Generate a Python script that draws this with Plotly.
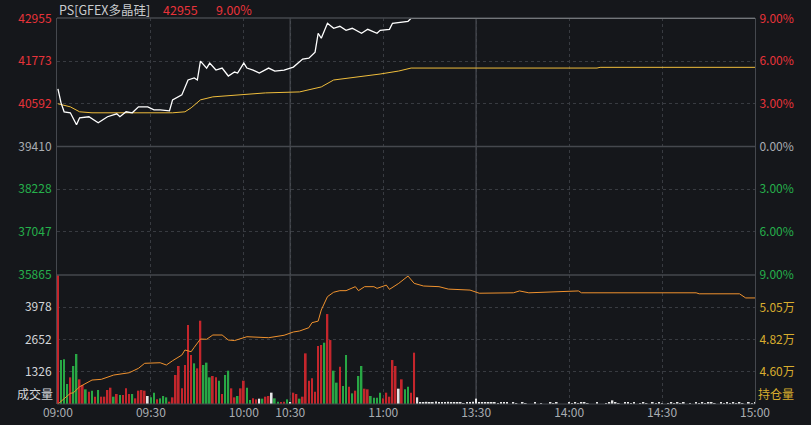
import plotly.graph_objects as go

# PS 多晶硅 intraday, one bar per trading minute
symbol = "PS[GFEX多晶硅]"
prev_settle = 39410

time_labels = ["09:00", "09:30", "10:00", "10:30", "11:00", "13:30", "14:00", "14:30", "15:00"]
time_ticks = [0, 30, 60, 75, 105, 135, 165, 195, 225]
session_breaks = [75, 135]

price_ticks = [35865, 37047, 38228, 39410, 40592, 41773, 42955]

# last price (white), minute -> price
price_min = [0, 1, 2, 4, 6, 7, 10, 13, 16, 19, 20, 22, 24, 26, 29, 31, 33, 36, 37, 40,
             42, 44, 45, 46, 48, 49, 51, 53, 55, 57, 58, 60, 61, 63, 65, 68, 70, 73, 75, 76,
             79, 81, 83, 84, 85, 87, 89, 91, 93, 95, 98, 100, 103, 104, 107, 108, 113, 114, 225]
price_val = [41003, 40617, 40370, 40342, 40012, 40205, 40233, 40068, 40233, 40315, 40233, 40370,
             40342, 40507, 40507, 40425, 40425, 40397, 40700, 40838, 41250, 41305, 41250, 41773,
             41580, 41718, 41525, 41580, 41360, 41470, 41443, 41718, 41580, 41525, 41443, 41580,
             41497, 41525, 41580, 41608, 41828, 41855, 42020, 42543, 42405, 42818, 42680, 42735,
             42625, 42680, 42543, 42653, 42543, 42625, 42653, 42818, 42873, 42955, 42955]

# average price (yellow)
avg_min = [0, 4, 7, 11, 37, 41, 43, 46, 50, 59, 67, 78, 85, 89, 97, 104, 110, 114, 174, 175, 225]
avg_val = [40592, 40507, 40370, 40342, 40342, 40370, 40480, 40700, 40783, 40838, 40893, 40920,
           41058, 41250, 41333, 41415, 41498, 41580, 41580, 41600, 41600]

# open interest 持仓量 (orange)
oi_min = [0, 2, 4, 5, 7, 11, 14, 18, 23, 26, 28, 33, 35, 37, 40, 41, 43, 44, 46, 48, 50, 53,
          55, 57, 61, 68, 73, 76, 78, 81, 82, 84, 85, 87, 89, 91, 93, 96, 97, 99, 102, 103, 106,
          107, 110, 113, 115, 118, 123, 126, 133, 136, 147, 149, 152, 168, 169, 206, 207, 220, 222, 225]
oi_val = [43745, 44140, 44490, 44530, 44950, 45420, 45470, 45770, 45930, 46240, 46590, 46630,
          46470, 46770, 47170, 47520, 47400, 47710, 48290, 48270, 48570, 48570, 48220, 48180,
          48450, 48380, 48550, 48780, 48850, 49080, 49430, 49540, 50320, 51250, 51560, 51670,
          51670, 51950, 51670, 51950, 51950, 51830, 52060, 51760, 52180, 52690, 52180, 51995,
          51950, 51780, 51710, 51490, 51520, 51650, 51520, 51650, 51520, 51520, 51450, 51450,
          51160, 51160]
oi_ticks = [46000, 48250, 50500]
oi_labels = ["4.60万", "4.82万", "5.05万"]

vol_ticks = [1326, 2652, 3978]

volume = [5600, 1808, 1836, 822, 1096, 1562, 2055, 1014, 781, 603,
          507, 548, 301, 575, 301, 301, 575, 671, 301, 411,
          370, 370, 644, 411, 411, 233, 548, 575, 548, 329,
          274, 466, 192, 233, 329, 274, 96, 274, 1192, 1562,
          644, 1603, 3247, 2014, 1672, 1466, 3425, 1603, 1700, 1096,
          1151, 1096, 959, 411, 1192, 1370, 644, 274,
          329, 644, 959, 671, 164, 233, 192, 219, 219, 301,
          329, 466, 233, 96, 55, 96, 192, 55, 466, 411,
          219, 301, 2082, 959, 1055, 507, 2384, 2425, 2521, 3699,
          2630, 1370, 877, 1535, 740, 2014, 712, 438, 548, 1151,
          1562, 630, 603, 329, 260, 260, 466, 233, 466, 301,
          1808, 1562, 630, 1014, 603, 712, 466, 2110, 274,
          80, 60, 90, 60, 80, 100, 60, 80, 60, 90, 70, 60, 80, 60, 40, 80, 60, 90,
          220,
          60, 80, 60, 60, 80, 60, 40, 60, 80, 60,
          0, 60, 40, 0, 60, 40, 0, 0, 60, 0,
          40, 0, 0, 60, 40, 60, 0, 0, 0, 60,
          40, 60, 40, 60, 60, 40, 0, 0, 60, 0,
          0, 40, 80, 150, 60, 40, 0, 60, 60, 40,
          60, 0, 40, 60, 40, 0, 60, 40, 60, 40,
          0, 40, 60, 40, 60, 40, 60, 0, 40, 0,
          60, 40, 60, 40, 60, 60, 40, 0, 60, 40,
          60, 40, 60, 40, 60, 40, 0, 60, 40, 80]
# r = up, g = down, w = flat
vol_dir = ("rgggrggrrg" "rgrgrrrrgr" "grrrgrrrrw" "ggrgggrrrr" "rrrrgrrggg" "rrgrggrr"
           "grrggrrwgr" "rwggrrgwrr" "grrrrrrrgr" "rggrggrgrg" "grrggggrrr" "rrwrggrrw")
vol_dir = vol_dir + "w" * (len(volume) - len(vol_dir))

BG = "#15171b"
GRID = "#383b41"
FRAME = "#45484e"
RED = "#e8333a"
GREEN = "#25b04b"
GRAY = "#a9adb2"
GOLD = "#d8ad2e"
bar_colors = {"r": "#c4262c", "g": "#28a745", "w": "#e6e6e6"}


def side_color(p):
    if p > prev_settle:
        return RED
    if p < prev_settle:
        return GREEN
    return GRAY


left_text = ["<span style='color:%s'>%d</span>" % (side_color(p), p) for p in price_ticks]
right_text = ["<span style='color:%s'>%.2f%%</span>" % (side_color(p), abs(p - prev_settle) / prev_settle * 100)
              for p in price_ticks]

split = 129 / 386  # volume panel share of the plot height

fig = go.Figure()
fig.add_trace(go.Scatter(x=avg_min, y=avg_val, xaxis="x2", yaxis="y", mode="lines",
                         line=dict(color="#efbd3c", width=1), hoverinfo="skip"))
fig.add_trace(go.Scatter(x=price_min, y=price_val, xaxis="x2", yaxis="y", mode="lines",
                         line=dict(color="#ffffff", width=1.3)))
fig.add_trace(go.Scatter(x=price_min, y=price_val, xaxis="x2", yaxis="y2", mode="lines",
                         opacity=0, hoverinfo="skip"))
fig.add_trace(go.Bar(x=list(range(len(volume))), y=volume, xaxis="x", yaxis="y3", width=0.55,
                     marker=dict(color=[bar_colors[c] for c in vol_dir], line_width=0)))
fig.add_trace(go.Scatter(x=oi_min, y=oi_val, xaxis="x", yaxis="y4", mode="lines",
                         line=dict(color="#f0922e", width=1)))

xcommon = dict(range=[-0.3, 225], tickvals=time_ticks, showgrid=True, gridcolor=GRID, griddash="dot",
               gridwidth=1, zeroline=False, showline=False, ticks="", automargin=False)
ycommon = dict(zeroline=False, showline=True, linecolor=FRAME, ticks="", automargin=False)
price_range = [35855, 42965]

fig.update_layout(
    width=811, height=425, margin=dict(l=57, r=56, t=18, b=21),
    paper_bgcolor=BG, plot_bgcolor=BG, showlegend=False,
    font=dict(family="Noto Sans CJK SC", size=12, color=GRAY),
    xaxis=dict(xcommon, domain=[0, 1], anchor="y3", ticktext=time_labels,
               tickfont=dict(color=GRAY, size=12)),
    xaxis2=dict(xcommon, domain=[0, 1], anchor="y", matches="x", showticklabels=False),
    yaxis=dict(ycommon, domain=[split, 1], anchor="x2", range=price_range, tickvals=price_ticks,
               ticktext=left_text, showgrid=True, gridcolor=GRID, griddash="dot",
               ticklabelstandoff=2),
    yaxis2=dict(ycommon, overlaying="y", side="right", anchor="x2", range=price_range,
                tickvals=price_ticks, ticktext=right_text, showgrid=False, ticklabelstandoff=1),
    yaxis3=dict(ycommon, domain=[0, split], anchor="x", range=[0, 5304], tickvals=vol_ticks,
                ticktext=[str(v) for v in vol_ticks], tickfont=dict(color="#d2d5d8"),
                showgrid=True, gridcolor=GRID, griddash="dot", ticklabelstandoff=2),
    yaxis4=dict(ycommon, overlaying="y3", side="right", anchor="x", range=[43745, 52765],
                tickvals=oi_ticks, ticktext=oi_labels, tickfont=dict(color=GOLD),
                showgrid=False, ticklabelstandoff=1),
)

# frame lines and session separators
line = dict(color=FRAME, width=1.5)
fig.add_shape(type="line", xref="x domain", yref="y", x0=0, x1=1, y0=prev_settle, y1=prev_settle, line=line)
fig.add_shape(type="line", xref="paper", yref="y domain", x0=0, x1=1, y0=1, y1=1, line=line)
fig.add_shape(type="line", xref="paper", yref="y domain", x0=0, x1=1, y0=0, y1=0, line=line)
fig.add_shape(type="line", xref="paper", yref="y3 domain", x0=0, x1=1, y0=0, y1=0,
              line=dict(color=FRAME, width=1))
for b in session_breaks:
    fig.add_shape(type="line", xref="x", yref="paper", x0=b, x1=b, y0=0, y1=1, line=line, layer="below")

last = price_val[-1]
chg = (last - prev_settle) / prev_settle * 100
head_y = 1.0222
head = dict(xref="paper", yref="paper", y=head_y, xanchor="left", yanchor="middle", showarrow=False,
            borderpad=0)
fig.add_annotation(head, x=0.0015, text=symbol, font=dict(color="#c9cbce", size=12.5))
fig.add_annotation(head, x=0.1504, text=str(last), font=dict(color=RED, size=12.5))
fig.add_annotation(head, x=0.2264, text="%.2f%%" % chg, font=dict(color=RED, size=12.5))
fig.add_annotation(xref="paper", yref="paper", x=0, y=0, xanchor="right", yanchor="bottom", xshift=-2,
                   text="成交量", showarrow=False, font=dict(color="#d2d5d8", size=12))
fig.add_annotation(xref="paper", yref="paper", x=1, y=0, xanchor="left", yanchor="bottom", xshift=1,
                   text="持仓量", showarrow=False, font=dict(color=GOLD, size=12))

# drop the default body margin so the figure sits at the window's top-left corner
fig.write_html("out.html", config={"displayModeBar": False},
               post_script="document.body.style.margin='0';")
